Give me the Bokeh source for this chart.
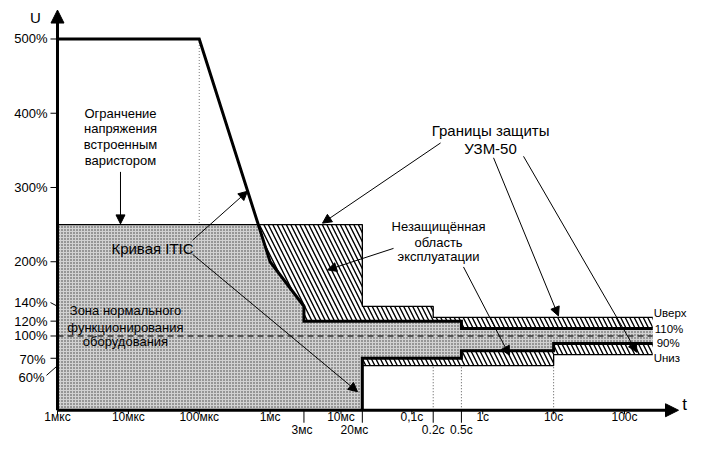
import numpy as np
from bokeh.plotting import figure
from bokeh.models import Arrow, NormalHead
from bokeh.core.properties import value
from bokeh.embed import file_html
from bokeh.resources import INLINE

# ---------------- data ----------------
T_END = 250.0  # end of the drawn time span, s
itic_upper_t = [1e-6, 1e-4, 1e-3, 3e-3, 3e-3, 0.5, 0.5, T_END]
itic_upper_u = [500, 500, 200, 140, 120, 120, 110, 110]
itic_lower_t = [0.02, 0.02, 0.5, 0.5, 10, 10, T_END]
itic_lower_u = [0, 70, 70, 80, 80, 90, 90]
uzm_upper_t = [1e-6, 0.02, 0.02, 0.2, 0.2, T_END]
uzm_upper_u = [250, 250, 140, 140, 125, 125]
uzm_lower_t = [0.02, 10, 10, T_END]
uzm_lower_u = [60, 60, 75, 75]
nominal_u = 100

x_ticks = [1e-6, 1e-5, 1e-4, 1e-3, 1e-2, 1e-1, 1, 10, 100]
x_tick_labels = ["1мкс", "10мкс", "100мкс", "1мс", "10мс", "0,1с", "1с", "10с", "100с"]
x_marks = [3e-3, 0.02, 0.2, 0.5]
x_mark_labels = ["3мс", "20мс", "0.2с", "0.5с"]
y_ticks = [500, 400, 300, 200, 140, 120, 100, 70, 60]
y_tick_labels = ["500%", "400%", "300%", "200%", "140%", "120%", "100%", "70%", "60%"]

# ---------------- derived shapes ----------------
box_u = uzm_upper_u[0]
# crossing of ITIC upper curve with the 250% limit (straight in log-time)
t_c = 10 ** np.interp(box_u, [itic_upper_u[2], itic_upper_u[1]],
                      [np.log10(itic_upper_t[2]), np.log10(itic_upper_t[1])])

up_hatch_x = [t_c] + uzm_upper_t[1:] + itic_upper_t[2:][::-1]
up_hatch_y = [box_u] + uzm_upper_u[1:] + itic_upper_u[2:][::-1]
lo_hatch_x = itic_lower_t[1:] + uzm_lower_t[::-1]
lo_hatch_y = itic_lower_u[1:] + uzm_lower_u[::-1]
st_x = [uzm_upper_t[0], uzm_upper_t[0], t_c] + itic_upper_t[2:] + itic_lower_t[::-1]
st_y = [0, box_u, box_u] + itic_upper_u[2:] + itic_lower_u[::-1]

# ---------------- figure ----------------
W, H = 688, 438
p = figure(width=W, height=H, x_axis_type="log",
           x_range=(10 ** -6.8042, 10 ** 2.9030), y_range=(-38.05, 551.85),
           output_backend="svg", toolbar_location=None,
           x_axis_location=None, y_axis_location=None, min_border=0)
p.outline_line_color = None
p.grid.visible = False
p.background_fill_color = "white"

SANS = value("Liberation Sans")

# fills
p.patch(st_x, st_y, fill_color="#d2d2d2", line_color=None,
        hatch_pattern="dot", hatch_scale=3, hatch_color="#3a3a3a", hatch_weight=1)
p.patch(up_hatch_x, up_hatch_y, fill_color="white", line_color=None,
        hatch_pattern="\\", hatch_scale=9, hatch_color="black", hatch_weight=1.4)
p.patch(lo_hatch_x, lo_hatch_y, fill_color="white", line_color=None,
        hatch_pattern="\\", hatch_scale=9, hatch_color="black", hatch_weight=1.4)

# nominal dashed line
p.line([itic_upper_t[0], T_END], [nominal_u, nominal_u], line_color="#333333",
       line_width=1.5, line_dash="6 4")

# dotted guide lines
p.line([1e-4, 1e-4], [itic_upper_u[1], box_u], line_color="#777777", line_width=1, line_dash="1 2")
for tt in [0.2, 0.5, 10]:
    p.line([tt, tt], [0, uzm_lower_u[0]], line_color="#555555", line_width=1, line_dash="1 2")

# UZM boundary lines (thin), ITIC curve (thick)
p.line(uzm_upper_t, uzm_upper_u, line_color="black", line_width=1.3)
p.line(uzm_lower_t, uzm_lower_u, line_color="black", line_width=1.3)
p.line(itic_upper_t, itic_upper_u, line_color="black", line_width=3, line_join="miter")
p.line(itic_lower_t, itic_lower_u, line_color="black", line_width=3, line_join="miter")

# axes
p.add_layout(Arrow(end=NormalHead(size=13, fill_color="black", line_color="black"),
                   x_start=1e-6, y_start=0, x_end=578, y_end=0,
                   line_width=3, line_color="black"))
p.add_layout(Arrow(end=NormalHead(size=13, fill_color="black", line_color="black"),
                   x_start=1e-6, y_start=0, x_end=1e-6, y_end=539,
                   line_width=3, line_color="black"))

# x ticks
p.segment(x0=x_ticks, y0=[0] * len(x_ticks), x1=x_ticks, y1=[-5.4] * len(x_ticks),
          line_color="black", line_width=1)
p.segment(x0=x_marks, y0=[0] * len(x_marks), x1=x_marks, y1=[-16.8] * len(x_marks),
          line_color="black", line_width=1)
p.text(x=x_ticks, y=[-8.6] * len(x_ticks), text=x_tick_labels, text_font=SANS,
       text_font_size="12px", text_align="center", text_baseline="middle", text_color="black")
mark_dx = [-2, -8, 0, 0]
for tt, lab, dx in zip(x_marks, x_mark_labels, mark_dx):
    p.text(x=[tt], y=[-26.0], text=[lab], text_font=SANS, text_font_size="12px",
           text_align="center", text_baseline="middle", x_offset=dx, text_color="black")

# y ticks
y_left = 10 ** -6.0988
y_lab_x = 10 ** -6.141
lab_off = {140: (0, -4), 60: (-3, 12), 70: (-2, 1)}
for u, lab in zip(y_ticks, y_tick_labels):
    dx, dy = lab_off.get(u, (0, 0))
    if u == 140:
        p.segment(x0=[y_left], y0=[u + 5], x1=[1e-6], y1=[u], line_color="black", line_width=1)
    elif u == 60:
        p.segment(x0=[10 ** -6.155], y0=[u - 13], x1=[1e-6], y1=[u], line_color="black", line_width=1)
    else:
        p.segment(x0=[y_left], y0=[u], x1=[1e-6], y1=[u], line_color="black", line_width=1)
    p.text(x=[y_lab_x], y=[u], text=[lab], text_font=SANS, text_font_size="13px",
           text_align="right", text_baseline="middle", x_offset=dx, y_offset=dy,
           text_color="black")

# axis names
p.text(x=[4.9e-7], y=[529], text=["U"], text_font=SANS, text_font_size="15px",
       text_align="center", text_baseline="middle")
p.text(x=[703], y=[7.7], text=["t"], text_font=SANS, text_font_size="17px",
       text_align="center", text_baseline="middle")

# right-hand labels
p.text(x=[T_END] * 4, y=[131.5, 110, 91, 70], text=["Uверх", "110%", "90%", "Uниз"],
       text_font=SANS, text_font_size="11.5px", text_align="left", text_baseline="middle",
       x_offset=[1, 2, 4, 1])

# annotation texts
def label_lines(tx, us, lines, size):
    p.text(x=[tx] * len(lines), y=us, text=lines, text_font=SANS, text_font_size=size,
           text_align="center", text_baseline="middle", text_color="black")

label_lines(7.74e-6, [400, 380, 357.5, 336],
            ["Огранчение", "напряжения", "встроенным", "варистором"], "13px")
label_lines(9.1e-6, [135, 112, 92.5],
            ["Зона нормального", "функционирования", "оборудования"], "13px")
label_lines(2.19e-5, [218], ["Кривая ITIC"], "15px")
label_lines(1.29, [377, 353], ["Границы защиты", "УЗМ-50"], "15px")
label_lines(0.238, [248, 226.5, 207.5],
            ["Незащищённая", "область", "эксплуатации"], "13px")

# annotation arrows
arrows = [
    ((7.74e-6, 321), (7.74e-6, 251)),
    ((8.04e-5, 229), (4.8e-4, 295)),
    ((8.04e-5, 210), (0.0171, 25)),
    ((0.254, 360), (0.00548, 252)),
    ((1.42, 340), (11.7, 127)),
    ((3.76, 342), (150, 78)),
    ((0.0551, 218), (0.00646, 189)),
    ((0.535, 193), (2.38, 74)),
]
for (xs, ys), (xe, ye) in arrows:
    p.add_layout(Arrow(end=NormalHead(size=9, fill_color="black", line_color="black"),
                       x_start=xs, y_start=ys, x_end=xe, y_end=ye,
                       line_width=1, line_color="black"))

open("out.html", "w").write(file_html(p, INLINE))
